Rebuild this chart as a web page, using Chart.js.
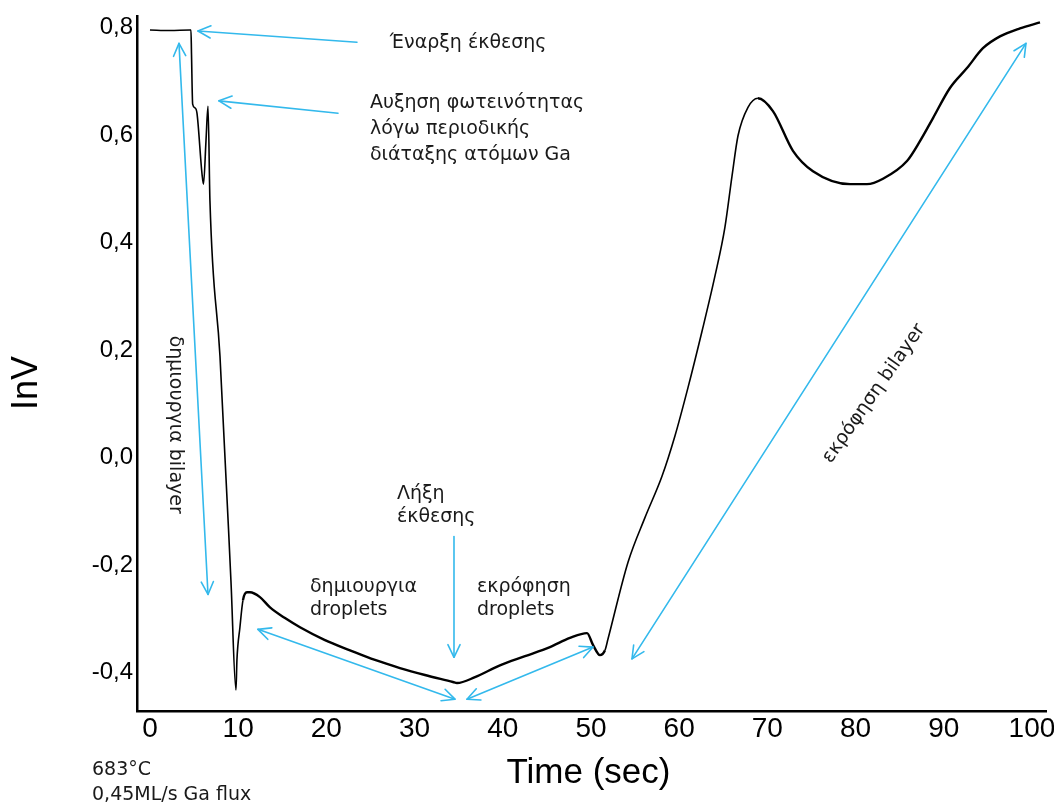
<!DOCTYPE html>
<html>
<head>
<meta charset="utf-8">
<script src="https://cdn.jsdelivr.net/npm/chart.js@4"></script>
<style>
  html, body { margin: 0; padding: 0; background: #fff; }
  #wrap { width: 1054px; height: 805px; position: relative; }
</style>
</head>
<body>
<div id="wrap"><canvas id="rheedChart"></canvas></div>
<script>
// RHEED intensity trace during Ga exposure
const timeSec = [0, 2.27, 4.54, 4.65, 4.71, 4.84, 5.10, 5.33, 5.90, 6.07, 6.35, 6.58, 6.80, 7.94, 9.18, 9.75,
  9.86, 10.20, 10.54, 11.00, 11.34, 12.47, 13.61, 15.31, 17.01, 19.84, 22.68, 25.51, 28.34, 31.18, 34.35, 34.81,
  36.85, 39.68, 42.52, 45.35, 47.62, 49.55, 50.23, 51.02, 51.59, 51.93, 54.20, 56.12, 58.05, 59.52, 61.00,
  62.59, 64.06, 65.19, 65.99, 66.67, 67.80, 68.93, 70.63, 72.90, 75.17, 79.37, 81.29, 83.11, 85.83, 87.30,
  88.78, 90.70, 92.63, 94.44, 96.37, 98.64, 100.91];
const signalInV = [0.796, 0.795, 0.796, 0.796, 0.751, 0.658, 0.651, 0.641, 0.528, 0.509, 0.589, 0.654, 0.478, 0.188, -0.229, -0.433,
  -0.377, -0.316, -0.266, -0.251, -0.251, -0.260, -0.279, -0.299, -0.316, -0.340, -0.359, -0.377, -0.392, -0.405, -0.418, -0.420,
  -0.409, -0.387, -0.370, -0.353, -0.336, -0.327, -0.349, -0.368, -0.359, -0.338, -0.195, -0.112, -0.035, 0.040, 0.130,
  0.235, 0.338, 0.429, 0.524, 0.599, 0.652, 0.669, 0.645, 0.571, 0.533, 0.509, 0.509, 0.519, 0.552, 0.589,
  0.632, 0.688, 0.725, 0.762, 0.784, 0.799, 0.810];

const xTicks = [0, 10, 20, 30, 40, 50, 60, 70, 80, 90, 100];
const yTicks = [-0.4, -0.2, 0.0, 0.2, 0.4, 0.6, 0.8];

// annotation arrows, ends given in (sec, InV)
const arrows = [
  { from: [23.47, 0.773], to: [5.44, 0.794], both: false },
  { from: [21.32, 0.641], to: [7.82, 0.664], both: false },
  { from: [3.29, 0.771], to: [6.58, -0.255], both: true },
  { from: [12.24, -0.320], to: [34.58, -0.450], both: true },
  { from: [35.94, -0.450], to: [50.23, -0.353], both: true },
  { from: [34.47, -0.147], to: [34.47, -0.372], both: false },
  { from: [54.65, -0.375], to: [99.32, 0.771], both: true }
];

// annotation texts, anchored at (sec, InV); gap = line spacing
const notes = [
  { lines: ['Έναρξη έκθεσης'], at: [27.2, 0.771], gap: 26 },
  { lines: ['Αυξηση φωτεινότητας', 'λόγω περιοδικής', 'διάταξης ατόμων Ga'], at: [24.94, 0.660], gap: 26 },
  { lines: ['Λήξη', 'έκθεσης'], at: [28.0, -0.069], gap: 23 },
  { lines: ['δημιουργια', 'droplets'], at: [18.14, -0.242], gap: 23 },
  { lines: ['εκρόφηση', 'droplets'], at: [37.07, -0.242], gap: 23 }
];
const rotatedNotes = [
  { text: 'δημιουργια bilayer', at: [2.83, 0.061], angle: 90 },
  { text: 'εκρόφηση bilayer', at: [82.09, 0.119], angle: -55 }
];

const ARROW_COLOR = '#33b9ec';
const NOTE_FONT = '19px "DejaVu Sans", Verdana, sans-serif';

function drawArrowHead(ctx, x1, y1, x2, y2) {
  const a = Math.atan2(y2 - y1, x2 - x1);
  const len = 14, spread = 0.45;
  ctx.beginPath();
  ctx.moveTo(x2 - len * Math.cos(a - spread), y2 - len * Math.sin(a - spread));
  ctx.lineTo(x2, y2);
  ctx.lineTo(x2 - len * Math.cos(a + spread), y2 - len * Math.sin(a + spread));
  ctx.stroke();
}

const annotationPlugin = {
  id: 'annotations',
  afterDatasetsDraw(chart) {
    const ctx = chart.ctx;
    const xs = chart.scales.x, ys = chart.scales.y;
    const px = v => xs.getPixelForValue(v);
    const py = v => ys.getPixelForValue(v);

    ctx.save();
    ctx.strokeStyle = ARROW_COLOR;
    ctx.lineWidth = 1.6;
    ctx.lineCap = 'round';
    ctx.lineJoin = 'round';
    arrows.forEach(a => {
      const x1 = px(a.from[0]), y1 = py(a.from[1]);
      const x2 = px(a.to[0]), y2 = py(a.to[1]);
      ctx.beginPath();
      ctx.moveTo(x1, y1);
      ctx.lineTo(x2, y2);
      ctx.stroke();
      drawArrowHead(ctx, x1, y1, x2, y2);
      if (a.both) drawArrowHead(ctx, x2, y2, x1, y1);
    });

    ctx.fillStyle = '#1a1a1a';
    ctx.font = NOTE_FONT;
    ctx.textAlign = 'left';
    ctx.textBaseline = 'middle';
    notes.forEach(n => {
      n.lines.forEach((line, i) => {
        ctx.fillText(line, px(n.at[0]), py(n.at[1]) + i * n.gap);
      });
    });

    ctx.textAlign = 'center';
    rotatedNotes.forEach(n => {
      ctx.save();
      ctx.translate(px(n.at[0]), py(n.at[1]));
      ctx.rotate(n.angle * Math.PI / 180);
      ctx.fillText(n.text, 0, 0);
      ctx.restore();
    });

    // axis titles and run conditions
    ctx.fillStyle = '#000';
    ctx.font = '35px "Liberation Sans", Arial, sans-serif';
    ctx.fillText('Time (sec)', (chart.chartArea.left + chart.chartArea.right) / 2 - 3, 773);
    ctx.save();
    ctx.translate(27, 383);
    ctx.rotate(-Math.PI / 2);
    ctx.font = '36px "Liberation Sans", Arial, sans-serif';
    ctx.fillText('InV', 0, 0);
    ctx.restore();

    ctx.fillStyle = '#1a1a1a';
    ctx.font = NOTE_FONT;
    ctx.textAlign = 'left';
    ctx.fillText('683°C', 92, 770);
    ctx.fillText('0,45ML/s Ga flux', 92, 795);
    ctx.restore();
  }
};

// the slow drift sections of the trace are drawn a little heavier
const heavy = x => (x > 10.5 && x < 51.5) || x > 68;

new Chart(document.getElementById('rheedChart'), {
  type: 'line',
  data: {
    datasets: [{
      data: timeSec.map((t, i) => ({ x: t, y: signalInV[i] })),
      borderColor: '#000',
      borderWidth: 1.6,
      pointRadius: 0,
      fill: false,
      cubicInterpolationMode: 'monotone',
      segment: {
        borderWidth: ctx => heavy(ctx.p0.parsed.x) ? 2.4 : 1.6
      }
    }]
  },
  options: {
    responsive: true,
    maintainAspectRatio: false,
    animation: false,
    events: [],
    layout: { padding: { left: 0, top: 16, right: 8, bottom: 0 } },
    plugins: { legend: { display: false }, tooltip: { enabled: false } },
    scales: {
      x: {
        type: 'linear',
        min: -1.47,
        max: 101.59,
        grid: { display: false, drawTicks: false },
        border: { display: true, color: '#000', width: 2.5 },
        afterBuildTicks: scale => { scale.ticks = xTicks.map(v => ({ value: v })); },
        afterFit: scale => { scale.height = 94; scale.paddingLeft = 0; scale.paddingRight = 0; },
        ticks: {
          color: '#000',
          padding: 1,
          maxRotation: 0,
          autoSkip: false,
          font: { family: '"Liberation Sans", Arial, sans-serif', size: 28 },
          callback: v => String(v)
        }
      },
      y: {
        type: 'linear',
        min: -0.472,
        max: 0.822,
        grid: { display: false, drawTicks: false },
        border: { display: true, color: '#000', width: 2.5 },
        afterBuildTicks: scale => { scale.ticks = yTicks.map(v => ({ value: v })); },
        afterFit: scale => { scale.width = 137; scale.paddingTop = 0; scale.paddingBottom = 0; },
        ticks: {
          color: '#000',
          padding: 4,
          autoSkip: false,
          font: { family: '"Liberation Sans", Arial, sans-serif', size: 24 },
          callback: v => v.toFixed(1).replace('.', ',')
        }
      }
    }
  },
  plugins: [annotationPlugin]
});
</script>
</body>
</html>
